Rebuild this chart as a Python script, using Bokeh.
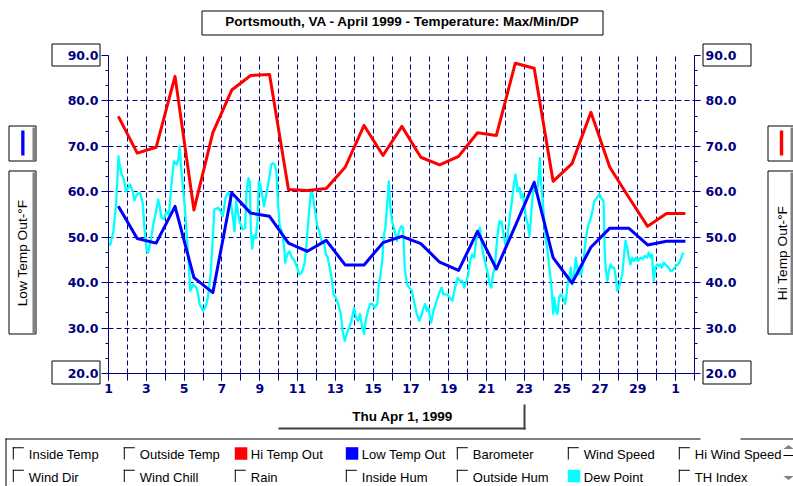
import math
from bokeh.plotting import figure
from bokeh.models import (Range1d, LinearAxis, FixedTicker, PrintfTickFormatter, GridBox, Column)
from bokeh.core.properties import value
from bokeh.embed import file_html
from bokeh.resources import INLINE

# ---------------- data ----------------
days = list(range(1, 32))          # one value per day, April 1 .. May 1
hi_temp = [76.6, 68.5, 69.8, 85.4, 56.0, 73.0, 82.4, 85.6, 85.8, 60.5,
           60.3, 60.7, 65.4, 74.6, 68.0, 74.4, 67.6, 65.9, 67.8, 73.0,
           72.4, 88.3, 87.2, 62.3, 66.2, 77.5, 65.4, 58.8, 52.4, 55.2, 55.2]
low_temp = [56.8, 49.7, 48.7, 56.8, 41.1, 37.8, 59.8, 55.3, 54.6, 48.7,
            46.9, 49.3, 43.9, 43.9, 48.8, 50.2, 48.6, 44.5, 42.7, 51.3,
            43.0, 52.5, 62.1, 45.5, 39.9, 47.8, 52.0, 52.0, 48.3, 49.1, 49.1]

dew_day = [1.0, 1.1, 1.26, 1.4, 1.53, 1.6, 1.7, 1.8, 1.93, 2.14, 2.28, 2.37, 2.5, 2.67, 2.81, 2.9,
           3.02, 3.1, 3.23, 3.37, 3.5, 3.63, 3.72, 3.8, 3.93, 4.07, 4.2, 4.33, 4.46, 4.6, 4.7, 4.77,
           4.84, 4.91, 5.04, 5.16, 5.26, 5.33, 5.47, 5.65, 5.74, 5.82, 6.0, 6.12, 6.26, 6.4, 6.53, 6.6,
           6.8, 6.93, 7.05, 7.19, 7.32, 7.4, 7.49, 7.58, 7.67, 7.75, 7.84, 7.93, 8.1, 8.23, 8.3, 8.4,
           8.47, 8.53, 8.6, 8.7, 8.79, 8.88, 8.95, 9.03, 9.12, 9.23, 9.35, 9.44, 9.53, 9.61, 9.7, 9.79,
           9.88, 9.96, 10.05, 10.17, 10.28, 10.35, 10.45, 10.58, 10.7, 10.84, 10.98, 11.1, 11.22, 11.36,
           11.45, 11.54, 11.63, 11.71, 11.8, 11.9, 12.03, 12.15, 12.27, 12.42, 12.5, 12.6, 12.73, 12.8,
           12.9, 13.03, 13.15, 13.29, 13.38, 13.5, 13.6, 13.73, 13.85, 13.99, 14.1, 14.2, 14.3, 14.43,
           14.52, 14.6, 14.73, 14.83, 14.95, 15.08, 15.22, 15.3, 15.39, 15.48, 15.57, 15.65, 15.74,
           15.83, 15.91, 16.0, 16.14, 16.26, 16.37, 16.49, 16.58, 16.67, 16.79, 16.91, 17.05, 17.19,
           17.31, 17.44, 17.58, 17.67, 17.75, 17.84, 17.93, 18.01, 18.07, 18.19, 18.36, 18.54, 18.63,
           18.71, 18.89, 19.06, 19.19, 19.33, 19.47, 19.59, 19.71, 19.82, 19.94, 20.03, 20.12, 20.24,
           20.34, 20.45, 20.55, 20.65, 20.76, 20.9, 21.03, 21.17, 21.25, 21.34, 21.43, 21.52, 21.6,
           21.69, 21.78, 21.87, 21.99, 22.1, 22.22, 22.34, 22.44, 22.53, 22.65, 22.74, 22.83, 22.92,
           23.0, 23.09, 23.18, 23.27, 23.36, 23.44, 23.53, 23.66, 23.75, 23.82, 23.88, 23.93, 24.0,
           24.07, 24.14, 24.23, 24.32, 24.4, 24.46, 24.53, 24.58, 24.67, 24.75, 24.84, 24.93, 25.05,
           25.16, 25.23, 25.3, 25.37, 25.46, 25.54, 25.63, 25.72, 25.79, 25.86, 25.93, 26.0, 26.1,
           26.2, 26.28, 26.39, 26.47, 26.56, 26.63, 26.7, 26.77, 26.88, 26.98, 27.05, 27.12, 27.19,
           27.25, 27.3, 27.39, 27.47, 27.56, 27.65, 27.74, 27.82, 27.91, 28.0, 28.09, 28.18, 28.26,
           28.35, 28.44, 28.53, 28.61, 28.7, 28.79, 28.91, 29.02, 29.14, 29.26, 29.37, 29.49, 29.58,
           29.67, 29.75, 29.84, 29.93, 30.02, 30.1, 30.19, 30.28, 30.37, 30.46, 30.54, 30.63, 30.72,
           30.81, 30.89, 31.02, 31.12, 31.25, 31.33, 31.42]
dew_f = [48.4, 48.4, 51.3, 57.2, 67.8, 65.6, 63.8, 63.0, 60.1, 61.6, 60.1, 58.1, 59.4, 59.8, 57.6, 52.1,
         47.0, 46.6, 49.2, 52.8, 55.4, 58.3, 56.5, 54.3, 54.0, 55.7, 55.0, 61.6, 66.7, 66.0, 67.1, 70.0,
         65.2, 62.3, 56.5, 49.2, 43.3, 38.2, 39.6, 38.9, 37.4, 35.3, 33.8, 34.5, 36.7, 41.8, 50.6, 56.1,
         56.5, 55.7, 54.6, 58.7, 59.8, 59.4, 57.2, 54.3, 51.3, 57.9, 55.7, 53.5, 51.7, 52.1, 60.0, 63.0,
         62.3, 52.1, 47.5, 50.4, 49.8, 53.5, 62.3, 61.6, 59.4, 56.8, 59.4, 61.6, 63.8, 66.0, 66.3, 66.0,
         64.5, 58.0, 52.8, 51.3, 48.4, 44.4, 46.2, 46.9, 45.5, 44.8, 43.3, 41.8, 42.2, 44.0,
         47.0, 52.1, 56.5, 60.1, 59.4, 56.5, 52.8, 51.3, 49.2, 48.4, 46.2, 45.5, 42.6, 41.1,
         37.4, 36.7, 35.3, 33.1, 29.4, 27.2, 28.7, 30.1, 31.6, 34.5, 32.3, 31.6, 33.1, 30.1,
         28.7, 31.6, 33.8, 35.3, 35.3, 34.5, 35.3, 39.6, 41.8, 44.8, 50.6, 52.1, 57.2,
         62.3, 56.5, 53.5, 51.3, 49.2, 51.3, 52.4, 52.1, 43.3, 39.6, 38.9, 38.2, 35.3,
         33.1, 31.6, 33.1, 34.5, 35.3, 33.8, 34.5, 32.3, 31.2, 33.8, 36.0, 38.2, 38.9,
         37.4, 37.4, 36.7, 36.0, 38.9, 41.1, 40.4, 40.4, 38.9, 40.4, 41.8, 44.8, 46.2,
         45.5, 49.2, 51.3, 52.1, 47.7, 44.8, 42.6, 39.6, 38.9, 41.8, 43.3, 47.7, 51.3,
         53.5, 53.5, 51.3, 48.4, 49.8, 54.3, 57.9, 61.6, 63.8, 60.1, 60.9, 58.7, 59.4,
         57.2, 54.3, 52.8, 50.2, 55.0, 59.4, 61.2, 59.4, 63.0, 67.4, 62.0, 60.1, 56.5,
         52.1, 49.2, 47.0, 43.3, 40.4, 37.4, 33.1, 36.7, 33.8, 33.1, 36.7, 37.4, 36.7,
         35.3, 37.4, 40.3, 41.1, 43.3, 39.6, 41.8, 45.5, 43.3, 41.8, 43.3, 41.8, 44.0,
         47.7, 50.6, 52.8, 53.5, 55.0, 56.5, 57.9, 58.3, 59.0, 59.4, 58.7, 58.3, 57.9,
         46.9, 43.3, 40.4, 42.6, 44.0, 43.3, 43.3, 41.8, 38.2, 38.9, 40.4, 41.8, 45.5,
         49.2, 47.7, 45.5, 44.0, 45.5, 44.8, 45.5, 44.8, 45.5, 45.2, 45.9, 45.5, 46.6,
         45.5, 46.2, 40.4, 43.3, 44.0, 43.7, 44.0, 43.3, 44.4, 44.0, 43.7, 43.3, 42.6,
         42.6, 43.0, 43.7, 44.0, 44.8, 45.9, 46.6]

y_ticks = [20, 30, 40, 50, 60, 70, 80, 90]
x_label_days = list(range(1, 32, 2))
x_label_overrides = {31: "1"}     # May 1

title_text = "Portsmouth, VA - April 1999 - Temperature: Max/Min/DP"
left_axis_title = "Low Temp Out-°F"
right_axis_title = "Hi Temp Out-°F"
date_text = "Thu Apr 1, 1999"
legend_rows = [
    ["Inside Temp", "Outside Temp", "Hi Temp Out", "Low Temp Out", "Barometer", "Wind Speed", "Hi Wind Speed"],
    ["Wind Dir", "Wind Chill", "Rain", "Inside Hum", "Outside Hum", "Dew Point", "TH Index"],
]
legend_colors = {"Hi Temp Out": "#FF0000", "Low Temp Out": "#0000FF", "Dew Point": "#00FFFF"}

# ---------------- styling ----------------
NAVY = "#000080"
RED = "#FF0000"
BLUE = "#0000FF"
CYAN = "#00FFFF"
GRAY = "#808080"
W, H = 793, 486
TXT_SHIFT = 5   # correction between requested and drawn text baseline

# ================= main chart =================
p = figure(width=W, height=H, output_backend="svg", toolbar_location=None,
           x_range=Range1d(1, 32), y_range=Range1d(20, 90),
           min_border_left=108, min_border_right=99,
           min_border_top=55, min_border_bottom=113)
p.outline_line_color = None
p.background_fill_color = "white"
p.border_fill_color = "white"


def style_axis(ax):
    ax.axis_line_color = NAVY
    ax.major_tick_line_color = NAVY
    ax.minor_tick_line_color = NAVY
    ax.major_label_text_color = NAVY
    ax.major_label_text_font = "DejaVu Sans"
    ax.major_label_text_font_style = "bold"
    ax.major_label_text_font_size = "12.5px"
    ax.major_tick_in = 0
    ax.minor_tick_in = 0


minor_y = [20 + i * 10 / 3 for i in range(22)]

yl = p.yaxis[0]
yl.ticker = FixedTicker(ticks=y_ticks, minor_ticks=minor_y)
yl.formatter = PrintfTickFormatter(format="%.1f")
style_axis(yl)
yl.major_tick_out = 7
yl.minor_tick_out = 3
yl.major_label_standoff = 3

yr = LinearAxis(ticker=FixedTicker(ticks=y_ticks, minor_ticks=minor_y),
                formatter=PrintfTickFormatter(format="%.1f"))
style_axis(yr)
yr.major_tick_out = 6
yr.minor_tick_out = 3
yr.major_label_standoff = 5
p.add_layout(yr, "right")

xa = p.xaxis[0]
xa.ticker = FixedTicker(ticks=x_label_days, minor_ticks=list(range(1, 33)))
xa.major_label_overrides = x_label_overrides
style_axis(xa)
xa.major_tick_out = 7
xa.minor_tick_out = 7
xa.major_label_standoff = 3

p.xgrid.ticker = FixedTicker(ticks=list(range(1, 33)))
p.ygrid.ticker = FixedTicker(ticks=y_ticks)
for g in (p.xgrid[0], p.ygrid[0]):
    g.grid_line_color = NAVY
    g.grid_line_dash = "5 3"
    g.grid_line_width = 1

p.line(dew_day, dew_f, line_color=CYAN, line_width=2.3, line_join="round")
p.line([d + 0.52 for d in days], hi_temp, line_color=RED, line_width=3, line_join="round")
p.line([d + 0.52 for d in days], low_temp, line_color=BLUE, line_width=3, line_join="round")

# ================= decoration overlay (pixel coordinates, y down) =================
d = figure(width=W, height=H, output_backend="svg", toolbar_location=None,
           x_range=Range1d(0, W), y_range=Range1d(H, 0),
           min_border=0, x_axis_location=None, y_axis_location=None)
d.grid.visible = False
d.outline_line_color = None
d.background_fill_alpha = 0
d.border_fill_alpha = 0


def frame_box(l, t, r, b, color="black"):
    d.quad(left=[l], right=[r], top=[t], bottom=[b], fill_alpha=0,
           line_color=color, line_width=1)


def fill_box(l, t, r, b, color):
    d.quad(left=[l], right=[r], top=[t], bottom=[b], fill_color=color,
           line_color=None)


def text(x, y, s, size="13px", bold=False, align="center", color="black", rotated=False):
    # (x, y): where the text's baseline should end up
    if rotated:
        x, angle = x - TXT_SHIFT, math.pi / 2
    else:
        y, angle = y - TXT_SHIFT, 0.0
    d.text(x=[x], y=[y], text=[s], text_align=align, text_baseline="alphabetic",
           text_font=value("Liberation Sans"), text_font_size=value(size),
           text_font_style="bold" if bold else "normal", text_color=color, angle=angle)


# title
frame_box(201.5, 10.5, 602.5, 34.5)
text(402, 25.5, title_text, size="13.5px", bold=True)

# boxed end labels of both value axes
frame_box(51.5, 43.5, 99.5, 65.5)
frame_box(51.5, 360.5, 99.5, 383.5)
frame_box(702.5, 43.5, 750.5, 65.5)
frame_box(702.5, 360.5, 750.5, 383.5)

# left side: series swatch and rotated axis title
frame_box(8.5, 125.5, 35.5, 160.5)
fill_box(32, 127, 35, 160, GRAY)
fill_box(20.7, 130, 24, 155, BLUE)
frame_box(8.5, 170.5, 35.5, 333.5)
fill_box(32, 172, 35, 333, GRAY)
text(26.5, 252.5, left_axis_title, size="13.7px", rotated=True)

# right side
frame_box(767.5, 125.5, 793, 160.5)
fill_box(790, 127, 793, 160, GRAY)
fill_box(779.3, 130, 782.7, 155, RED)
frame_box(767.5, 170.5, 793, 333.5)
fill_box(790, 172, 793, 333, GRAY)
text(786.5, 252.5, right_axis_title, size="13.7px", rotated=True)

# date "button"
fill_box(278, 427, 525, 429, "#404040")
fill_box(523, 404, 525, 429, "#404040")
text(402, 421, date_text, size="13.5px", bold=True)

# legend panel with check boxes
fill_box(5, 438, 700, 439, "black")
fill_box(740, 438, 793, 439, "black")
fill_box(5, 438, 6, 486, "black")
col_x = [12.3, 123.3, 234.3, 345.3, 456.3, 567.3, 678.3]
row_y = [446.7, 469.3]
for r, names in enumerate(legend_rows):
    for c, name in enumerate(names):
        bx, by = col_x[c], row_y[r]
        if name in legend_colors:
            fill_box(bx, by, bx + 12.5, by + 12.5, legend_colors[name])
        else:
            fill_box(bx, by, bx + 11, by + 1, "black")
            fill_box(bx, by, bx + 1, by + 12.3, "black")
        text(bx + 16, by + 12.6, name, size="13px", align="left")

# scroll arrows at the far right of the legend
d.patches(xs=[[783, 793, 788], [783, 793, 788]], ys=[[448.5, 448.5, 444.5], [475.5, 475.5, 479.5]],
          fill_color=GRAY, line_color=None)
fill_box(783, 454.5, 793, 455.5, "black")

# the overlay sits in its own (non-plot) container so its frame is not aligned to the chart's
overlay = Column(children=[d], width=W, height=H, spacing=0)
layout = GridBox(children=[(p, 0, 0), (overlay, 0, 0)], spacing=0)

open("out.html", "w").write(file_html(layout, INLINE))
